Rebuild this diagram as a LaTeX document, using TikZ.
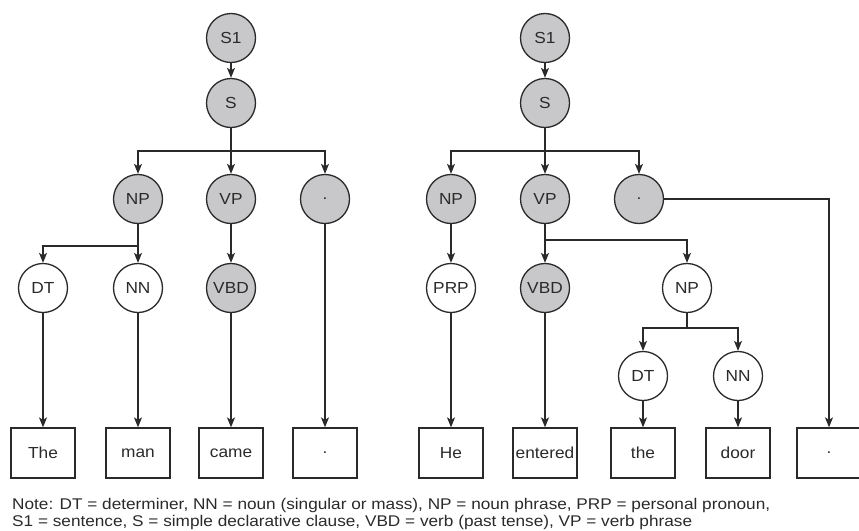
\documentclass[tikz,border=0pt]{standalone}
\usepackage{fontspec}
\setmainfont{Liberation Sans}
\newfontfamily\labelfont[FakeStretch=1.08]{Liberation Sans}
\newfontfamily\notefont[FakeStretch=1.11]{Liberation Sans}
\usetikzlibrary{arrows.meta}
\definecolor{ink}{HTML}{2A2A2A}
\definecolor{nodegray}{HTML}{C8C8CA}
\begin{document}
\begin{tikzpicture}[x=1pt,y=-1pt,
  every node/.style={text=ink,font=\labelfont\fontsize{16}{19}\selectfont},
  cat/.style={circle,draw=ink,line width=1.3pt,minimum size=49pt,inner sep=0pt},
  phrase/.style={cat,fill=nodegray},
  tag/.style={cat,fill=white},
  word/.style={rectangle,draw=ink,line width=1.3pt,minimum width=64pt,minimum height=50pt,inner sep=0pt},
  arr/.style={draw=ink,line width=1.3pt,-{Stealth[length=10pt,width=8pt,inset=2.5pt]}},
  note/.style={anchor=base west,inner sep=0pt,font=\notefont\fontsize{15.5}{18}\selectfont}]
\useasboundingbox (0,0) rectangle (859,530);

% ---- first sentence: "The man came ."
\node[phrase] (a-s1) at (231,38) {S1};
\node[phrase] (a-s)  at (231,103) {S};
\node[phrase] (a-np) at (138,199) {NP};
\node[phrase] (a-vp) at (231,199) {VP};
\node[phrase] (a-pd) at (325,199) {.};
\node[tag]    (a-dt) at (43,288) {DT};
\node[tag]    (a-nn) at (138,288) {NN};
\node[phrase] (a-vbd) at (231,288) {VBD};
\node[word] (a-w1) at (43,453) {The};
\node[word] (a-w2) at (138,453) {man};
\node[word] (a-w3) at (231,453) {came};
\node[word] (a-w4) at (325,453) {.};

\draw[arr] (a-s1) -- (a-s);
\draw[arr] (a-s.south) |- ([yshift=23pt]a-np.north) -- (a-np.north);
\draw[arr] (a-s.south) -- (a-vp.north);
\draw[arr] (a-s.south) |- ([yshift=23pt]a-pd.north) -- (a-pd.north);
\draw[arr] (a-np.south) |- ([yshift=17pt]a-dt.north) -- (a-dt.north);
\draw[arr] (a-np.south) -- (a-nn.north);
\draw[arr] (a-vp) -- (a-vbd);
\draw[arr] (a-dt) -- (a-w1);
\draw[arr] (a-nn) -- (a-w2);
\draw[arr] (a-vbd) -- (a-w3);
\draw[arr] (a-pd) -- (a-w4);

% ---- second sentence: "He entered the door ."
\node[phrase] (b-s1) at (545,38) {S1};
\node[phrase] (b-s)  at (545,103) {S};
\node[phrase] (b-np) at (451,199) {NP};
\node[phrase] (b-vp) at (545,199) {VP};
\node[phrase] (b-pd) at (639,199) {.};
\node[tag]    (b-prp) at (451,288) {PRP};
\node[phrase] (b-vbd) at (545,288) {VBD};
\node[tag]    (b-np2) at (687,288) {NP};
\node[tag]    (b-dt) at (643,376) {DT};
\node[tag]    (b-nn) at (738,376) {NN};
\node[word] (b-w1) at (451,453) {He};
\node[word] (b-w2) at (545,453) {entered};
\node[word] (b-w3) at (643,453) {the};
\node[word] (b-w4) at (738,453) {door};
\node[word] (b-w5) at (829,453) {.};

\draw[arr] (b-s1) -- (b-s);
\draw[arr] (b-s.south) |- ([yshift=23pt]b-np.north) -- (b-np.north);
\draw[arr] (b-s.south) -- (b-vp.north);
\draw[arr] (b-s.south) |- ([yshift=23pt]b-pd.north) -- (b-pd.north);
\draw[arr] (b-np) -- (b-prp);
\draw[arr] (b-vp.south) -- (b-vbd.north);
\draw[arr] (b-vp.south) |- ([yshift=23pt]b-np2.north) -- (b-np2.north);
\draw[arr] (b-np2.south) |- ([yshift=23pt]b-dt.north) -- (b-dt.north);
\draw[arr] (b-np2.south) |- ([yshift=23pt]b-nn.north) -- (b-nn.north);
\draw[arr] (b-pd.east) -| (b-w5.north);
\draw[arr] (b-prp) -- (b-w1);
\draw[arr] (b-vbd) -- (b-w2);
\draw[arr] (b-dt) -- (b-w3);
\draw[arr] (b-nn) -- (b-w4);

% ---- legend
\node[note] (n1) at (12,509) {Note: DT = determiner, NN = noun (singular or mass), NP = noun phrase, PRP = personal pronoun,};
\node[note] (n2) at (12,526) {S1 = sentence, S = simple declarative clause, VBD = verb (past tense), VP = verb phrase};
\end{tikzpicture}
\end{document}
